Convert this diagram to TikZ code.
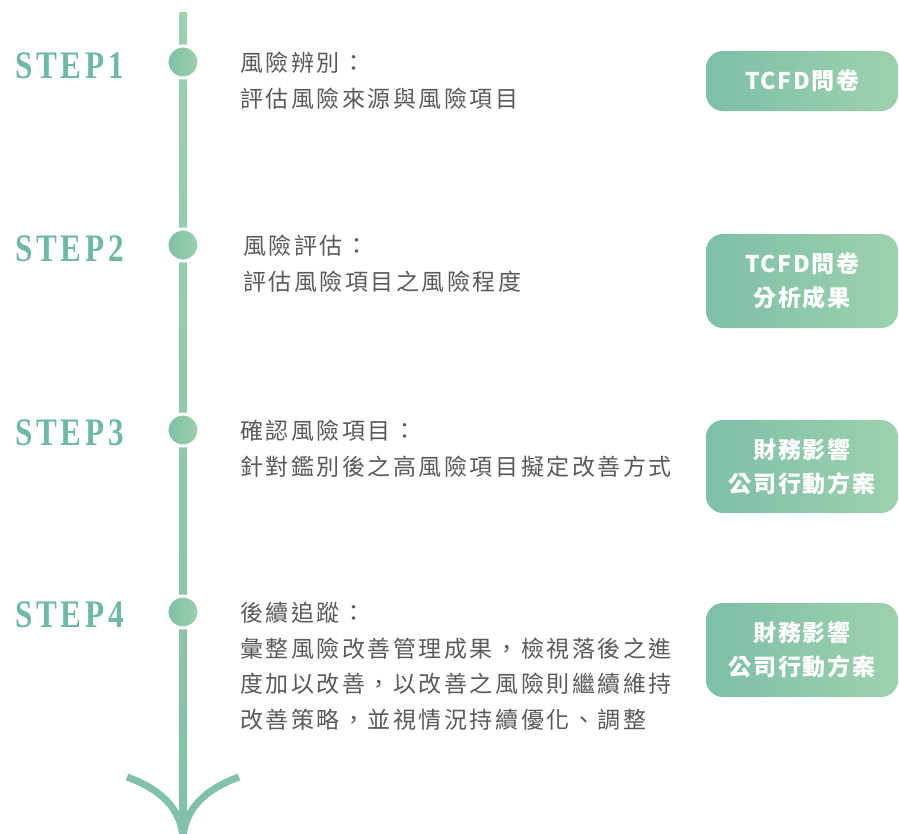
\documentclass[tikz,border=0pt]{standalone}
\usepackage{fontspec}
\usepackage{graphicx}
\newfontfamily\cjk[LetterSpace=11]{Noto Sans CJK TC}
\newfontfamily\cjkbox[LetterSpace=7]{Noto Sans CJK TC Bold}
\newfontfamily\stepfont[LetterSpace=12]{Liberation Serif Bold}
\definecolor{stepc}{HTML}{6DB9A6}
\definecolor{txtc}{HTML}{5A5A5A}
\definecolor{gA}{HTML}{7DBFA8}
\definecolor{gB}{HTML}{9DD1AD}
\definecolor{armc}{HTML}{82C1A9}
\tikzset{
  steplabel/.style={anchor=west, inner sep=0pt, text=stepc},
  dot/.style={circle, minimum size=32pt, inner sep=0pt, left color=gA, right color=gB, draw=white, line width=3pt},
  desc/.style={anchor=north west, inner sep=0pt, align=left, text=txtc, font=\fontsize{23}{35.5}\selectfont\cjk},
  resbox/.style={rounded corners=17pt, minimum width=192pt, inner sep=0pt, left color=gA, right color=gB, text=white, align=center, font=\fontsize{23}{34}\selectfont\cjkbox\bfseries},
  arm/.style={draw=armc, line width=7pt}
}
\newcommand{\steptext}[1]{\scalebox{0.8}[1]{\fontsize{39}{39}\selectfont\stepfont #1}}
\begin{document}
\begin{tikzpicture}[x=1pt,y=-1pt]
\useasboundingbox[fill=white] (0,0) rectangle (899,833);
% timeline
\coordinate (top) at (183,12);
\coordinate (tip) at (183,838);
\shade[top color=gB, bottom color=armc] (179.5,12) rectangle (186.5,838);
\coordinate (la) at (127,777);
\coordinate (ra) at (239,777);
\draw[arm] (la) .. controls (160,789) and (181,808) .. (tip);
\draw[arm] (ra) .. controls (206,789) and (185,808) .. (tip);
% dots
\node[dot] (d1) at (183,62) {};
\node[dot] (d2) at (183,245) {};
\node[dot] (d3) at (183,430) {};
\node[dot] (d4) at (183,612) {};
% step labels
\node[steplabel] (s1) at (15,66) {\steptext{STEP1}};
\node[steplabel] (s2) at (15,249) {\steptext{STEP2}};
\node[steplabel] (s3) at (15,433) {\steptext{STEP3}};
\node[steplabel] (s4) at (15,615) {\steptext{STEP4}};
% descriptions
\node[desc] (t1) at (240,52) {風險辨別：\\評估風險來源與風險項目};
\node[desc] (t2) at (243,235) {風險評估：\\評估風險項目之風險程度};
\node[desc] (t3) at (240,420) {確認風險項目：\\針對鑑別後之高風險項目擬定改善方式};
\node[desc] (t4) at (240,602) {後續追蹤：\\彙整風險改善管理成果，檢視落後之進\\度加以改善，以改善之風險則繼續維持\\改善策略，並視情況持續優化、調整};
% result boxes
\node[resbox, minimum height=60pt] (b1) at (802,81) {TCFD問卷};
\node[resbox, minimum height=94pt] (b2) at (802,281) {TCFD問卷\\分析成果};
\node[resbox, minimum height=93pt] (b3) at (802,466.5) {財務影響\\公司行動方案};
\node[resbox, minimum height=94pt] (b4) at (802,650) {財務影響\\公司行動方案};
\end{tikzpicture}
\end{document}
